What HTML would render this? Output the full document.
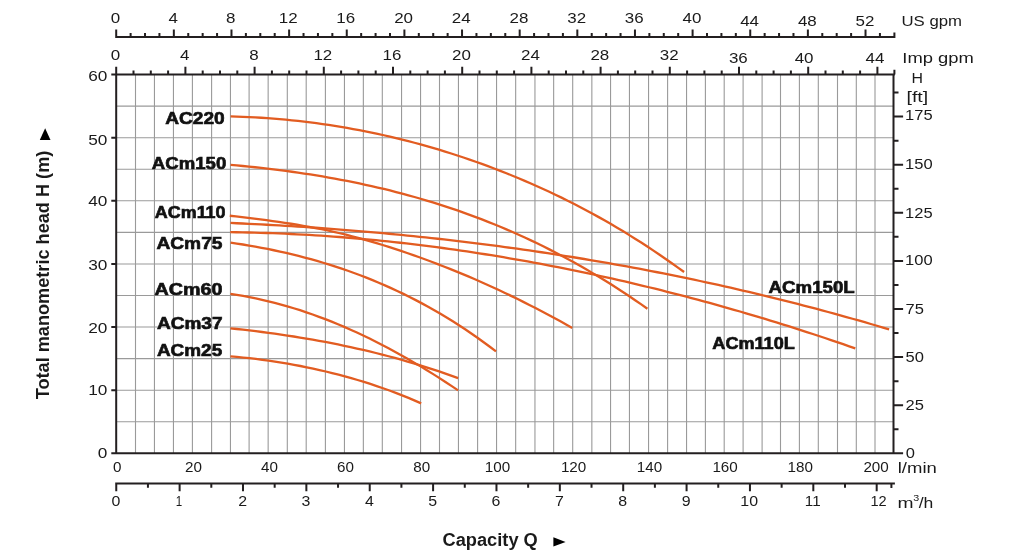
<!DOCTYPE html>
<html><head><meta charset="utf-8"><title>Pump performance curves</title>
<style>html,body{margin:0;padding:0;background:#fff;width:1024px;height:559px;overflow:hidden}svg{display:block}</style>
</head><body>
<svg width="1024" height="559" viewBox="0 0 1024 559"><path d="M135.50 74.58V453.30M154.45 74.58V453.30M173.45 74.58V453.30M192.40 74.58V453.30M211.60 74.58V453.30M230.45 74.58V453.30M249.10 74.58V453.30M268.15 74.58V453.30M287.30 74.58V453.30M306.20 74.58V453.30M325.40 74.58V453.30M344.45 74.58V453.30M363.35 74.58V453.30M382.30 74.58V453.30M401.55 74.58V453.30M420.55 74.58V453.30M439.50 74.58V453.30M458.45 74.58V453.30M477.60 74.58V453.30M496.55 74.58V453.30M515.67 74.58V453.30M534.95 74.58V453.30M553.65 74.58V453.30M572.70 74.58V453.30M591.85 74.58V453.30M610.55 74.58V453.30M629.45 74.58V453.30M648.55 74.58V453.30M667.60 74.58V453.30M686.55 74.58V453.30M705.40 74.58V453.30M724.20 74.58V453.30M743.10 74.58V453.30M762.10 74.58V453.30M780.50 74.58V453.30M799.40 74.58V453.30M818.30 74.58V453.30M837.50 74.58V453.30M856.30 74.58V453.30M875.00 74.58V453.30M116.20 421.74H893.50M116.20 390.18H893.50M116.20 358.62H893.50M116.20 327.06H893.50M116.20 295.50H893.50M116.20 263.94H893.50M116.20 232.38H893.50M116.20 200.82H893.50M116.20 169.26H893.50M116.20 137.70H893.50M116.20 106.14H893.50" stroke="#9a9a9a" stroke-width="1.1" fill="none"/>
<g stroke="#e25c21" stroke-width="2.3" fill="none" stroke-linecap="butt" stroke-linejoin="round"><path d="M230.60 116.40 L236.73 116.57 L242.86 116.80 L248.99 117.07 L255.11 117.38 L261.24 117.74 L267.37 118.16 L273.50 118.61 L279.63 119.12 L285.76 119.68 L291.88 120.28 L298.01 120.93 L304.14 121.63 L310.27 122.38 L316.40 123.18 L322.53 124.03 L328.65 124.92 L334.78 125.87 L340.91 126.87 L347.04 127.91 L353.17 129.01 L359.30 130.15 L365.42 131.35 L371.55 132.60 L377.68 133.90 L383.81 135.25 L389.94 136.65 L396.07 138.10 L402.19 139.60 L408.32 141.16 L414.45 142.76 L420.58 144.42 L426.71 146.13 L432.84 147.90 L438.96 149.71 L445.09 151.58 L451.22 153.50 L457.35 155.48 L463.48 157.51 L469.61 159.59 L475.74 161.73 L481.86 163.92 L487.99 166.16 L494.12 168.46 L500.25 170.81 L506.38 173.23 L512.51 175.70 L518.63 178.23 L524.76 180.82 L530.89 183.47 L537.02 186.18 L543.15 188.96 L549.28 191.79 L555.40 194.70 L561.53 197.66 L567.66 200.70 L573.79 203.80 L579.92 206.96 L586.05 210.20 L592.17 213.51 L598.30 216.88 L604.43 220.33 L610.56 223.85 L616.69 227.45 L622.82 231.11 L628.94 234.86 L635.07 238.67 L641.20 242.57 L647.33 246.54 L653.46 250.59 L659.59 254.72 L665.71 258.93 L671.84 263.22 L677.97 267.60 L684.10 272.05"/><path d="M230.60 164.87 L236.73 165.43 L242.86 166.01 L248.99 166.62 L255.12 167.26 L261.25 167.93 L267.38 168.63 L273.51 169.36 L279.64 170.13 L285.76 170.93 L291.89 171.76 L298.02 172.63 L304.15 173.54 L310.28 174.48 L316.41 175.46 L322.54 176.48 L328.67 177.54 L334.80 178.63 L340.93 179.77 L347.06 180.96 L353.19 182.18 L359.32 183.45 L365.45 184.77 L371.58 186.13 L377.71 187.53 L383.84 188.99 L389.96 190.49 L396.09 192.04 L402.22 193.64 L408.35 195.30 L414.48 197.00 L420.61 198.76 L426.74 200.57 L432.87 202.44 L439.00 204.36 L445.13 206.33 L451.26 208.37 L457.39 210.46 L463.52 212.61 L469.65 214.82 L475.78 217.09 L481.91 219.42 L488.04 221.81 L494.16 224.27 L500.29 226.79 L506.42 229.38 L512.55 232.03 L518.68 234.75 L524.81 237.53 L530.94 240.39 L537.07 243.31 L543.20 246.30 L549.33 249.37 L555.46 252.50 L561.59 255.71 L567.72 258.99 L573.85 262.35 L579.98 265.78 L586.11 269.29 L592.24 272.87 L598.36 276.53 L604.49 280.27 L610.62 284.10 L616.75 288.00 L622.88 291.98 L629.01 296.04 L635.14 300.19 L641.27 304.42 L647.40 308.74"/><path d="M229.80 215.74 L235.91 216.42 L242.03 217.12 L248.14 217.85 L254.26 218.60 L260.37 219.38 L266.49 220.20 L272.60 221.04 L278.71 221.91 L284.83 222.82 L290.94 223.76 L297.06 224.75 L303.17 225.78 L309.29 226.86 L315.40 228.01 L321.51 229.21 L327.63 230.49 L333.74 231.83 L339.86 233.25 L345.97 234.74 L352.09 236.29 L358.20 237.91 L364.31 239.59 L370.43 241.34 L376.54 243.14 L382.66 245.00 L388.77 246.91 L394.89 248.88 L401.00 250.90 L407.11 252.97 L413.23 255.09 L419.34 257.26 L425.46 259.48 L431.57 261.75 L437.69 264.08 L443.80 266.45 L449.91 268.87 L456.03 271.34 L462.14 273.86 L468.26 276.43 L474.37 279.05 L480.49 281.72 L486.60 284.45 L492.71 287.22 L498.83 290.04 L504.94 292.92 L511.06 295.85 L517.17 298.82 L523.29 301.85 L529.40 304.93 L535.51 308.06 L541.63 311.25 L547.74 314.48 L553.86 317.77 L559.97 321.11 L566.09 324.49 L572.20 327.94"/><path d="M230.50 222.97 L236.60 223.24 L242.70 223.52 L248.79 223.81 L254.89 224.11 L260.99 224.42 L267.09 224.75 L273.19 225.09 L279.29 225.43 L285.38 225.79 L291.48 226.17 L297.58 226.55 L303.68 226.94 L309.78 227.35 L315.87 227.77 L321.97 228.20 L328.07 228.64 L334.17 229.10 L340.27 229.57 L346.36 230.05 L352.46 230.54 L358.56 231.05 L364.66 231.56 L370.76 232.09 L376.86 232.63 L382.95 233.19 L389.05 233.76 L395.15 234.34 L401.25 234.93 L407.35 235.54 L413.44 236.16 L419.54 236.79 L425.64 237.43 L431.74 238.09 L437.84 238.76 L443.94 239.45 L450.03 240.15 L456.13 240.86 L462.23 241.58 L468.33 242.32 L474.43 243.08 L480.52 243.84 L486.62 244.62 L492.72 245.41 L498.82 246.22 L504.92 247.04 L511.01 247.88 L517.11 248.73 L523.21 249.59 L529.31 250.47 L535.41 251.36 L541.51 252.26 L547.60 253.18 L553.70 254.12 L559.80 255.06 L565.90 256.03 L572.00 257.00 L578.09 258.00 L584.19 259.00 L590.29 260.02 L596.39 261.06 L602.49 262.11 L608.59 263.18 L614.68 264.26 L620.78 265.35 L626.88 266.47 L632.98 267.59 L639.08 268.73 L645.17 269.89 L651.27 271.06 L657.37 272.25 L663.47 273.45 L669.57 274.67 L675.66 275.90 L681.76 277.15 L687.86 278.42 L693.96 279.70 L700.06 281.00 L706.16 282.31 L712.25 283.64 L718.35 284.98 L724.45 286.34 L730.55 287.72 L736.65 289.11 L742.74 290.52 L748.84 291.95 L754.94 293.39 L761.04 294.85 L767.14 296.32 L773.24 297.81 L779.33 299.32 L785.43 300.85 L791.53 302.39 L797.63 303.95 L803.73 305.52 L809.82 307.11 L815.92 308.72 L822.02 310.35 L828.12 311.99 L834.22 313.65 L840.31 315.33 L846.41 317.02 L852.51 318.74 L858.61 320.47 L864.71 322.21 L870.81 323.98 L876.90 325.76 L883.00 327.56 L889.10 329.38"/><path d="M230.30 232.18 L236.37 232.26 L242.44 232.36 L248.50 232.48 L254.57 232.63 L260.64 232.80 L266.71 232.99 L272.78 233.20 L278.84 233.44 L284.91 233.70 L290.98 233.98 L297.05 234.28 L303.12 234.61 L309.18 234.95 L315.25 235.32 L321.32 235.71 L327.39 236.13 L333.46 236.56 L339.52 237.02 L345.59 237.49 L351.66 237.99 L357.73 238.51 L363.80 239.06 L369.86 239.62 L375.93 240.20 L382.00 240.81 L388.07 241.43 L394.13 242.08 L400.20 242.75 L406.27 243.44 L412.34 244.15 L418.41 244.88 L424.47 245.63 L430.54 246.40 L436.61 247.19 L442.68 248.01 L448.75 248.84 L454.81 249.69 L460.88 250.56 L466.95 251.46 L473.02 252.37 L479.09 253.30 L485.15 254.26 L491.22 255.23 L497.29 256.22 L503.36 257.23 L509.43 258.27 L515.49 259.32 L521.56 260.39 L527.63 261.48 L533.70 262.59 L539.77 263.72 L545.83 264.86 L551.90 266.03 L557.97 267.21 L564.04 268.42 L570.11 269.64 L576.17 270.88 L582.24 272.14 L588.31 273.42 L594.38 274.72 L600.45 276.04 L606.51 277.37 L612.58 278.73 L618.65 280.10 L624.72 281.49 L630.79 282.90 L636.85 284.33 L642.92 285.78 L648.99 287.25 L655.06 288.74 L661.13 290.24 L667.19 291.76 L673.26 293.31 L679.33 294.87 L685.40 296.45 L691.47 298.05 L697.53 299.67 L703.60 301.30 L709.67 302.96 L715.74 304.63 L721.80 306.33 L727.87 308.04 L733.94 309.77 L740.01 311.52 L746.08 313.29 L752.14 315.08 L758.21 316.89 L764.28 318.72 L770.35 320.56 L776.42 322.43 L782.48 324.31 L788.55 326.21 L794.62 328.14 L800.69 330.08 L806.76 332.04 L812.82 334.02 L818.89 336.02 L824.96 338.03 L831.03 340.07 L837.10 342.13 L843.16 344.20 L849.23 346.29 L855.30 348.41"/><path d="M230.60 242.58 L236.77 243.52 L242.94 244.50 L249.12 245.54 L255.29 246.63 L261.46 247.78 L267.63 248.98 L273.80 250.25 L279.98 251.58 L286.15 252.96 L292.32 254.42 L298.49 255.94 L304.67 257.53 L310.84 259.19 L317.01 260.93 L323.18 262.74 L329.35 264.62 L335.53 266.59 L341.70 268.63 L347.87 270.76 L354.04 272.97 L360.21 275.26 L366.39 277.65 L372.56 280.12 L378.73 282.69 L384.90 285.35 L391.07 288.11 L397.25 290.96 L403.42 293.91 L409.59 296.97 L415.76 300.12 L421.93 303.39 L428.11 306.75 L434.28 310.23 L440.45 313.82 L446.62 317.52 L452.80 321.34 L458.97 325.27 L465.14 329.32 L471.31 333.49 L477.48 337.78 L483.66 342.20 L489.83 346.74 L496.00 351.41"/><path d="M230.45 293.95 L236.77 294.90 L243.10 295.96 L249.42 297.13 L255.74 298.40 L262.07 299.78 L268.39 301.26 L274.72 302.85 L281.04 304.54 L287.36 306.33 L293.69 308.23 L300.01 310.22 L306.33 312.32 L312.66 314.51 L318.98 316.80 L325.30 319.19 L331.63 321.67 L337.95 324.26 L344.27 326.93 L350.60 329.70 L356.92 332.56 L363.25 335.52 L369.57 338.57 L375.89 341.70 L382.22 344.93 L388.54 348.24 L394.86 351.65 L401.19 355.14 L407.51 358.72 L413.83 362.38 L420.16 366.13 L426.48 369.96 L432.81 373.88 L439.13 377.87 L445.45 381.95 L451.78 386.11 L458.10 390.35"/><path d="M230.45 328.32 L236.77 328.99 L243.10 329.70 L249.42 330.43 L255.74 331.20 L262.07 331.99 L268.39 332.83 L274.72 333.69 L281.04 334.59 L287.36 335.53 L293.69 336.50 L300.01 337.52 L306.33 338.57 L312.66 339.66 L318.98 340.79 L325.30 341.97 L331.63 343.19 L337.95 344.45 L344.27 345.76 L350.60 347.11 L356.92 348.51 L363.25 349.96 L369.57 351.45 L375.89 353.00 L382.22 354.60 L388.54 356.25 L394.86 357.95 L401.19 359.70 L407.51 361.52 L413.83 363.38 L420.16 365.30 L426.48 367.28 L432.81 369.32 L439.13 371.42 L445.45 373.58 L451.78 375.80 L458.10 378.09"/><path d="M230.45 356.35 L236.81 356.91 L243.17 357.53 L249.52 358.22 L255.88 358.96 L262.24 359.77 L268.60 360.65 L274.96 361.59 L281.32 362.59 L287.68 363.66 L294.03 364.80 L300.39 366.00 L306.75 367.27 L313.11 368.61 L319.47 370.02 L325.82 371.50 L332.18 373.05 L338.54 374.67 L344.90 376.37 L351.26 378.14 L357.62 379.99 L363.98 381.93 L370.33 383.95 L376.69 386.05 L383.05 388.24 L389.41 390.53 L395.77 392.90 L402.12 395.37 L408.48 397.93 L414.84 400.60 L421.20 403.36"/></g>
<path d="M116.20 66.7V454.30M893.50 74.58V454.30M115.20 74.58H894.9M115.20 453.30H893.50M111.3 453.30H116.20M111.3 390.18H116.20M111.3 327.06H116.20M111.3 263.94H116.20M111.3 200.82H116.20M111.3 137.70H116.20M111.3 74.58H116.20M893.50 453.30h9.6M893.50 429.25h5.0M893.50 405.20h9.6M893.50 381.15h5.0M893.50 357.11h9.6M893.50 333.06h5.0M893.50 309.01h9.6M893.50 284.96h5.0M893.50 260.91h9.6M893.50 236.86h5.0M893.50 212.81h9.6M893.50 188.76h5.0M893.50 164.72h9.6M893.50 140.67h5.0M893.50 116.62h9.6M893.50 92.57h5.0M116.20 74.58V66.7M133.50 74.58V70.4M150.80 74.58V70.4M168.10 74.58V70.4M185.40 74.58V66.7M202.70 74.58V70.4M220.00 74.58V70.4M237.30 74.58V70.4M254.60 74.58V66.7M271.90 74.58V70.4M289.20 74.58V70.4M306.50 74.58V70.4M323.80 74.58V66.7M341.10 74.58V70.4M358.40 74.58V70.4M375.70 74.58V70.4M393.00 74.58V66.7M410.30 74.58V70.4M427.60 74.58V70.4M444.90 74.58V70.4M462.20 74.58V66.7M479.50 74.58V70.4M496.80 74.58V70.4M514.10 74.58V70.4M531.40 74.58V66.7M548.70 74.58V70.4M566.00 74.58V70.4M583.30 74.58V70.4M600.60 74.58V66.7M617.90 74.58V70.4M635.20 74.58V70.4M652.50 74.58V70.4M669.80 74.58V66.7M687.10 74.58V70.4M704.40 74.58V70.4M721.70 74.58V70.4M739.00 74.58V66.7M756.30 74.58V70.4M773.60 74.58V70.4M790.90 74.58V70.4M808.20 74.58V66.7M825.50 74.58V70.4M842.80 74.58V70.4M860.10 74.58V70.4M877.40 74.58V66.7M894.4 74.58V69.8M115.20 37H895.4M116.20 37V29.4M130.61 37V33.0M145.02 37V33.0M159.43 37V33.0M173.84 37V29.4M188.25 37V33.0M202.66 37V33.0M217.07 37V33.0M231.48 37V29.4M245.89 37V33.0M260.30 37V33.0M274.71 37V33.0M289.12 37V29.4M303.53 37V33.0M317.94 37V33.0M332.35 37V33.0M346.76 37V29.4M361.17 37V33.0M375.58 37V33.0M389.99 37V33.0M404.40 37V29.4M418.81 37V33.0M433.22 37V33.0M447.63 37V33.0M462.04 37V29.4M476.45 37V33.0M490.86 37V33.0M505.27 37V33.0M519.68 37V29.4M534.09 37V33.0M548.50 37V33.0M562.91 37V33.0M577.32 37V29.4M591.73 37V33.0M606.14 37V33.0M620.55 37V33.0M634.96 37V29.4M649.37 37V33.0M663.78 37V33.0M678.19 37V33.0M692.60 37V29.4M707.01 37V33.0M721.42 37V33.0M735.83 37V33.0M750.24 37V29.4M764.65 37V33.0M779.06 37V33.0M793.47 37V33.0M807.88 37V29.4M822.29 37V33.0M836.70 37V33.0M851.11 37V33.0M865.52 37V29.4M879.93 37V33.0M894.4 37V32.6M115.20 483.5H894.9M116.25 483.5V491.3M147.94 483.5V487.7M179.62 483.5V491.3M211.31 483.5V487.7M242.99 483.5V491.3M274.67 483.5V487.7M306.36 483.5V491.3M338.04 483.5V487.7M369.73 483.5V491.3M401.41 483.5V487.7M433.10 483.5V491.3M464.78 483.5V487.7M496.47 483.5V491.3M528.15 483.5V487.7M559.84 483.5V491.3M591.52 483.5V487.7M623.21 483.5V491.3M654.89 483.5V487.7M686.58 483.5V491.3M718.26 483.5V487.7M749.95 483.5V491.3M781.63 483.5V487.7M813.32 483.5V491.3M845.00 483.5V487.7M876.69 483.5V491.3M891.4 483.5V487.9" stroke="#231f20" stroke-width="2" fill="none"/>
<g font-family="'Liberation Sans', Arial, sans-serif" fill="#1a1a1a"><text x="110.78" y="23.00" font-size="14.5" textLength="9.44" lengthAdjust="spacingAndGlyphs">0</text><text x="168.47" y="23.00" font-size="14.5" textLength="9.44" lengthAdjust="spacingAndGlyphs">4</text><text x="226.06" y="23.00" font-size="14.5" textLength="9.44" lengthAdjust="spacingAndGlyphs">8</text><text x="278.77" y="23.00" font-size="14.5" textLength="18.87" lengthAdjust="spacingAndGlyphs">12</text><text x="336.36" y="23.00" font-size="14.5" textLength="18.87" lengthAdjust="spacingAndGlyphs">16</text><text x="394.17" y="23.00" font-size="14.5" textLength="18.87" lengthAdjust="spacingAndGlyphs">20</text><text x="451.73" y="23.00" font-size="14.5" textLength="18.87" lengthAdjust="spacingAndGlyphs">24</text><text x="509.49" y="23.00" font-size="14.5" textLength="18.87" lengthAdjust="spacingAndGlyphs">28</text><text x="567.29" y="23.00" font-size="14.5" textLength="18.87" lengthAdjust="spacingAndGlyphs">32</text><text x="624.88" y="23.00" font-size="14.5" textLength="18.87" lengthAdjust="spacingAndGlyphs">36</text><text x="682.60" y="23.00" font-size="14.5" textLength="18.87" lengthAdjust="spacingAndGlyphs">40</text><text x="740.16" y="25.60" font-size="14.5" textLength="18.87" lengthAdjust="spacingAndGlyphs">44</text><text x="797.92" y="25.60" font-size="14.5" textLength="18.87" lengthAdjust="spacingAndGlyphs">48</text><text x="855.47" y="25.60" font-size="14.5" textLength="18.87" lengthAdjust="spacingAndGlyphs">52</text><text x="901.51" y="25.60" font-size="15" textLength="60.50" lengthAdjust="spacingAndGlyphs">US gpm</text><text x="110.78" y="59.90" font-size="14.5" textLength="9.44" lengthAdjust="spacingAndGlyphs">0</text><text x="180.03" y="59.90" font-size="14.5" textLength="9.44" lengthAdjust="spacingAndGlyphs">4</text><text x="249.18" y="59.90" font-size="14.5" textLength="9.44" lengthAdjust="spacingAndGlyphs">8</text><text x="313.45" y="59.90" font-size="14.5" textLength="18.87" lengthAdjust="spacingAndGlyphs">12</text><text x="382.60" y="59.90" font-size="14.5" textLength="18.87" lengthAdjust="spacingAndGlyphs">16</text><text x="451.97" y="59.90" font-size="14.5" textLength="18.87" lengthAdjust="spacingAndGlyphs">20</text><text x="521.09" y="59.90" font-size="14.5" textLength="18.87" lengthAdjust="spacingAndGlyphs">24</text><text x="590.41" y="59.90" font-size="14.5" textLength="18.87" lengthAdjust="spacingAndGlyphs">28</text><text x="659.77" y="59.90" font-size="14.5" textLength="18.87" lengthAdjust="spacingAndGlyphs">32</text><text x="728.92" y="62.60" font-size="14.5" textLength="18.87" lengthAdjust="spacingAndGlyphs">36</text><text x="794.70" y="62.60" font-size="14.5" textLength="18.87" lengthAdjust="spacingAndGlyphs">40</text><text x="865.62" y="62.60" font-size="14.5" textLength="18.87" lengthAdjust="spacingAndGlyphs">44</text><text x="902.31" y="63.30" font-size="15" textLength="71.51" lengthAdjust="spacingAndGlyphs">Imp gpm</text><text x="88.29" y="81.40" font-size="14.5" textLength="19.19" lengthAdjust="spacingAndGlyphs">60</text><text x="88.29" y="145.30" font-size="14.5" textLength="19.19" lengthAdjust="spacingAndGlyphs">50</text><text x="88.29" y="206.20" font-size="14.5" textLength="19.19" lengthAdjust="spacingAndGlyphs">40</text><text x="88.29" y="269.50" font-size="14.5" textLength="19.19" lengthAdjust="spacingAndGlyphs">30</text><text x="88.29" y="332.60" font-size="14.5" textLength="19.19" lengthAdjust="spacingAndGlyphs">20</text><text x="88.29" y="395.40" font-size="14.5" textLength="19.19" lengthAdjust="spacingAndGlyphs">10</text><text x="97.88" y="458.30" font-size="14.5" textLength="9.60" lengthAdjust="spacingAndGlyphs">0</text><text x="905.04" y="120.30" font-size="14.5" textLength="27.58" lengthAdjust="spacingAndGlyphs">175</text><text x="905.04" y="169.20" font-size="14.5" textLength="27.58" lengthAdjust="spacingAndGlyphs">150</text><text x="905.04" y="217.60" font-size="14.5" textLength="27.58" lengthAdjust="spacingAndGlyphs">125</text><text x="905.04" y="265.20" font-size="14.5" textLength="27.58" lengthAdjust="spacingAndGlyphs">100</text><text x="905.46" y="314.10" font-size="14.5" textLength="18.39" lengthAdjust="spacingAndGlyphs">75</text><text x="905.64" y="361.80" font-size="14.5" textLength="18.39" lengthAdjust="spacingAndGlyphs">50</text><text x="905.47" y="409.80" font-size="14.5" textLength="18.39" lengthAdjust="spacingAndGlyphs">25</text><text x="905.66" y="458.10" font-size="14.5" textLength="9.19" lengthAdjust="spacingAndGlyphs">0</text><text x="911.59" y="83.40" font-size="15" textLength="11.50" lengthAdjust="spacingAndGlyphs">H</text><text x="906.52" y="101.60" font-size="15" textLength="21.68" lengthAdjust="spacingAndGlyphs">[ft]</text><text x="113.07" y="472.20" font-size="14.5" textLength="8.47" lengthAdjust="spacingAndGlyphs">0</text><text x="185.05" y="472.20" font-size="14.5" textLength="16.93" lengthAdjust="spacingAndGlyphs">20</text><text x="261.01" y="472.20" font-size="14.5" textLength="16.93" lengthAdjust="spacingAndGlyphs">40</text><text x="337.09" y="472.20" font-size="14.5" textLength="16.93" lengthAdjust="spacingAndGlyphs">60</text><text x="413.25" y="472.20" font-size="14.5" textLength="16.93" lengthAdjust="spacingAndGlyphs">80</text><text x="484.77" y="472.20" font-size="14.5" textLength="25.40" lengthAdjust="spacingAndGlyphs">100</text><text x="560.92" y="472.20" font-size="14.5" textLength="25.40" lengthAdjust="spacingAndGlyphs">120</text><text x="636.77" y="472.20" font-size="14.5" textLength="25.40" lengthAdjust="spacingAndGlyphs">140</text><text x="712.42" y="472.20" font-size="14.5" textLength="25.40" lengthAdjust="spacingAndGlyphs">160</text><text x="787.62" y="472.20" font-size="14.5" textLength="25.40" lengthAdjust="spacingAndGlyphs">180</text><text x="863.42" y="472.20" font-size="14.5" textLength="25.40" lengthAdjust="spacingAndGlyphs">200</text><text x="897.76" y="472.80" font-size="15" textLength="39.05" lengthAdjust="spacingAndGlyphs">l/min</text><text x="111.42" y="506.30" font-size="14.5" textLength="8.87" lengthAdjust="spacingAndGlyphs">0</text><text x="175.84" y="506.30" font-size="14.5" textLength="6.45" lengthAdjust="spacingAndGlyphs">1</text><text x="238.16" y="506.30" font-size="14.5" textLength="8.87" lengthAdjust="spacingAndGlyphs">2</text><text x="301.57" y="506.30" font-size="14.5" textLength="8.87" lengthAdjust="spacingAndGlyphs">3</text><text x="364.94" y="506.30" font-size="14.5" textLength="8.87" lengthAdjust="spacingAndGlyphs">4</text><text x="428.28" y="506.30" font-size="14.5" textLength="8.87" lengthAdjust="spacingAndGlyphs">5</text><text x="491.58" y="506.30" font-size="14.5" textLength="8.87" lengthAdjust="spacingAndGlyphs">6</text><text x="555.00" y="506.30" font-size="14.5" textLength="8.87" lengthAdjust="spacingAndGlyphs">7</text><text x="618.38" y="506.30" font-size="14.5" textLength="8.87" lengthAdjust="spacingAndGlyphs">8</text><text x="681.75" y="506.30" font-size="14.5" textLength="8.87" lengthAdjust="spacingAndGlyphs">9</text><text x="740.39" y="506.30" font-size="14.5" textLength="17.74" lengthAdjust="spacingAndGlyphs">10</text><text x="804.81" y="506.30" font-size="14.5" textLength="15.80" lengthAdjust="spacingAndGlyphs">11</text><text x="870.49" y="506.30" font-size="14.5" textLength="16.24" lengthAdjust="spacingAndGlyphs">12</text><text x="897.63" y="507.50" font-size="15" textLength="16.04" lengthAdjust="spacingAndGlyphs">m</text><text x="913.19" y="500.50" font-size="9" textLength="5.98" lengthAdjust="spacingAndGlyphs">3</text><text x="918.70" y="507.50" font-size="15" textLength="14.64" lengthAdjust="spacingAndGlyphs">/h</text><text x="442.55" y="545.80" font-size="18" font-weight="bold" textLength="95.22" lengthAdjust="spacingAndGlyphs">Capacity Q</text><path d="M553.4 537.2L565.6 541.9L553.4 546.6Z" fill="#000"/><text transform="translate(48.8 399.1) rotate(-90)" x="-0.20" y="0" font-size="18" font-weight="bold" textLength="248.60" lengthAdjust="spacingAndGlyphs">Total manometric head H (m)</text><path d="M39.8 140L45.15 128.2L50.5 140Z" fill="#000"/></g>
<g font-family="'Liberation Sans', Arial, sans-serif" fill="#111" stroke="#111" stroke-width="0.66"><text x="165.25" y="123.90" font-size="17.3" font-weight="bold" textLength="59.40" lengthAdjust="spacingAndGlyphs">AC220</text><text x="151.87" y="169.10" font-size="17.3" font-weight="bold" textLength="74.37" lengthAdjust="spacingAndGlyphs">ACm150</text><text x="154.78" y="218.30" font-size="17.3" font-weight="bold" textLength="70.82" lengthAdjust="spacingAndGlyphs">ACm110</text><text x="156.45" y="249.10" font-size="17.3" font-weight="bold" textLength="66.05" lengthAdjust="spacingAndGlyphs">ACm75</text><text x="154.54" y="294.80" font-size="17.3" font-weight="bold" textLength="67.94" lengthAdjust="spacingAndGlyphs">ACm60</text><text x="156.95" y="328.50" font-size="17.3" font-weight="bold" textLength="65.55" lengthAdjust="spacingAndGlyphs">ACm37</text><text x="156.96" y="355.80" font-size="17.3" font-weight="bold" textLength="65.24" lengthAdjust="spacingAndGlyphs">ACm25</text><text x="768.61" y="292.50" font-size="17.3" font-weight="bold" textLength="86.13" lengthAdjust="spacingAndGlyphs">ACm150L</text><text x="712.38" y="348.75" font-size="17.3" font-weight="bold" textLength="82.35" lengthAdjust="spacingAndGlyphs">ACm110L</text></g></svg>
</body></html>
